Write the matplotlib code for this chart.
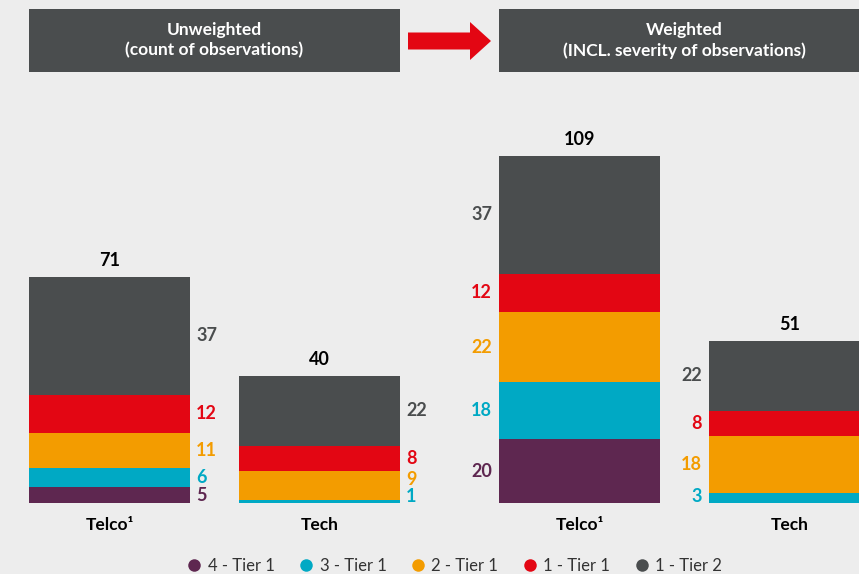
import matplotlib.pyplot as plt
import matplotlib.patches as mpatches
from matplotlib.lines import Line2D

# --- DATA ---
categories = ["Telco¹", "Tech"]
series_names = ["4 - Tier 1", "3 - Tier 1", "2 - Tier 1", "1 - Tier 1", "1 - Tier 2"]

# unweighted (count of observations), bottom to top
unweighted_telco = [5, 6, 11, 12, 37]
unweighted_tech = [0, 1, 9, 8, 22]
# weighted (incl. severity)
weighted_telco = [20, 18, 22, 12, 37]
weighted_tech = [0, 3, 18, 8, 22]

panel_titles = ["Unweighted\n(count of observations)",
                "Weighted\n(INCL. severity of observations)"]

# --- STYLE ---
BG = "#ededed"
DARK = "#4a4d4e"
colors = ["#5e2750", "#00a9c4", "#f39c00", "#e30613", "#4a4d4e"]
plt.rcParams['font.family'] = ['Lato', 'DejaVu Sans']

W, H = 859, 574
fig = plt.figure(figsize=(W / 100, H / 100), dpi=100, facecolor=BG)


def px_box(x0, y0, x1, y1):
    # pixel box (top-left origin) -> figure fraction [l, b, w, h]
    return [x0 / W, 1 - y1 / H, (x1 - x0) / W, (y1 - y0) / H]


BAR_W = 0.767
YMAX = 115
MIN_GAP = 5.5


def draw_panel(ax, stacks, side):
    ax.set_facecolor(BG)
    for i, vals in enumerate(stacks):
        bottom = 0
        centers = []
        for v, c in zip(vals, colors):
            if v > 0:
                ax.bar(i, v, BAR_W, bottom=bottom, color=c, linewidth=0)
                centers.append((bottom + v / 2, v, c))
            bottom += v
        # keep labels from overlapping
        prev = None
        for ypos, v, c in centers:
            if prev is None:
                ypos = max(ypos, 2.0)
            else:
                ypos = max(ypos, prev + MIN_GAP)
            prev = ypos
            if side == "right":
                ax.annotate(str(v), xy=(i + BAR_W / 2, ypos), xytext=(4.5, 0),
                            textcoords="offset points", ha="left", va="center",
                            color=c, fontsize=13, fontweight="bold")
            else:
                ax.annotate(str(v), xy=(i - BAR_W / 2, ypos), xytext=(-5, 0),
                            textcoords="offset points", ha="right", va="center",
                            color=c, fontsize=13, fontweight="bold")
        ax.annotate(str(sum(vals)), xy=(i, bottom), xytext=(0, 12),
                    textcoords="offset points", ha="center", va="center",
                    color="black", fontsize=13, fontweight="bold")
        ax.annotate(categories[i], xy=(i, 0), xytext=(0, -16),
                    textcoords="offset points", ha="center", va="center",
                    color="black", fontsize=12.5, fontweight="bold")
    ax.set_xlim(-BAR_W / 2, 1 + BAR_W / 2)
    ax.set_ylim(0, YMAX)
    ax.axis("off")


bar_top_px = 503 - YMAX * 3.183
ax1 = fig.add_axes(px_box(29, bar_top_px, 400, 503))
ax2 = fig.add_axes(px_box(499, bar_top_px, 870, 503))
draw_panel(ax1, [unweighted_telco, unweighted_tech], "right")
draw_panel(ax2, [weighted_telco, weighted_tech], "left")

# header boxes
for (x0, x1), title in zip([(29, 400), (499, 870)], panel_titles):
    l, b, w, h = px_box(x0, 9, x1, 72)
    fig.patches.append(mpatches.Rectangle((l, b), w, h, transform=fig.transFigure,
                                          facecolor=DARK, edgecolor="none"))
    fig.text(l + w / 2, b + h / 2, title, ha="center", va="center", color="white",
             fontsize=12.5, fontweight="bold", linespacing=1.3)

# red arrow between the boxes
fig.patches.append(mpatches.FancyArrow(408 / W, 1 - 41 / H, 83 / W, 0,
                                       width=17 / H, head_width=38 / H,
                                       head_length=21 / W, length_includes_head=True,
                                       transform=fig.transFigure,
                                       color="#e30613", linewidth=0))

# legend
handles = [Line2D([], [], marker="o", linestyle="none", markersize=9,
                  markerfacecolor=c, markeredgecolor="none") for c in colors]
fig.legend(handles, series_names, loc="center", ncol=5,
           bbox_to_anchor=(454 / W, 1 - 566 / H), frameon=False,
           handletextpad=0.3, columnspacing=1.4, handlelength=1.0,
           fontsize=12, labelcolor="#333333")

fig.savefig("out.png", dpi=100, facecolor=BG)
